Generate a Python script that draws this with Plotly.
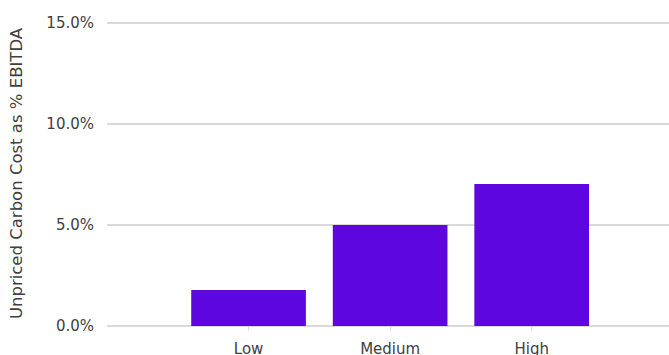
import plotly.graph_objects as go

categories = ["Low", "Medium", "High"]
values = [1.78, 5.0, 7.03]
y_ticks = [0, 5, 10, 15]
y_tick_labels = ["0.0%", "5.0%", "10.0%", "15.0%"]

font_family = "Century Gothic, DejaVu Sans, sans-serif"
text_color = "#404040"

fig = go.Figure(
    go.Bar(
        x=categories,
        y=values,
        marker=dict(color="#5E06E0", line=dict(width=0)),
        width=0.81,
    )
)

fig.update_layout(
    width=669,
    height=355,
    margin=dict(l=107, r=0, t=21, b=29, autoexpand=False),
    plot_bgcolor="white",
    paper_bgcolor="white",
    showlegend=False,
    font=dict(family=font_family, color=text_color, size=15),
    xaxis=dict(
        type="category",
        range=[-1.0, 2.97],
        showgrid=False,
        showline=False,
        zeroline=False,
        automargin=False,
        ticks="outside",
        ticklen=4,
        tickcolor="#D9D9D9",
        tickwidth=1,
        ticklabelstandoff=5,
        tickfont=dict(size=15, color=text_color),
    ),
    yaxis=dict(
        range=[0, 15.1],
        tickvals=y_ticks,
        ticktext=y_tick_labels,
        showgrid=True,
        gridcolor="#D9D9D9",
        gridwidth=1.5,
        zeroline=True,
        zerolinecolor="#D9D9D9",
        zerolinewidth=2,
        showline=False,
        automargin=False,
        ticks="",
        ticklabelstandoff=12,
        tickfont=dict(size=15, color=text_color),
        title=dict(
            text="Unpriced Carbon Cost as % EBITDA",
            font=dict(size=16.5, color=text_color),
            standoff=19,
        ),
    ),
)

fig.write_html(
    "out.html",
    config={"displayModeBar": False},
    post_script="document.body.style.margin='0';",
)
